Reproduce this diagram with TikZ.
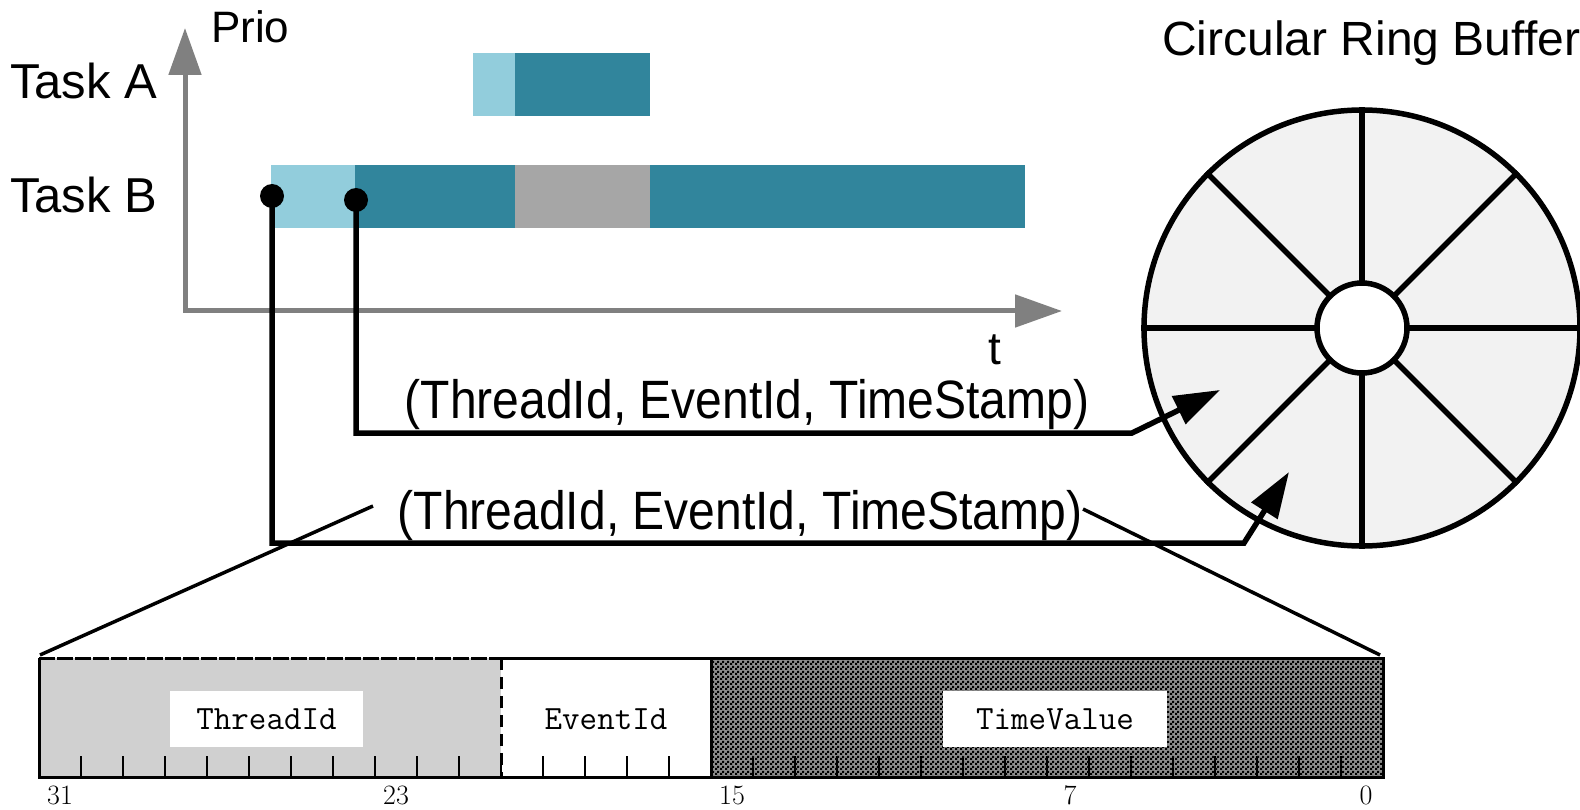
\documentclass[tikz,border=0pt]{standalone}
\usepackage{fontspec}
\newfontfamily\arialf{Liberation Sans}
\newfontfamily\narrowsans[FakeStretch=0.89]{Liberation Sans}
\usetikzlibrary{arrows.meta,patterns}
\definecolor{lightb}{HTML}{92CDDC}
\definecolor{tealb}{HTML}{31859C}
\definecolor{grayb}{HTML}{A6A6A6}
\definecolor{tidfill}{HTML}{D0D0D0}
\definecolor{ringfill}{HTML}{F2F2F2}
\definecolor{axisgray}{HTML}{808080}
\definecolor{checkbase}{HTML}{8C8C8C}
\pgfdeclarepatternformonly{checker}{\pgfpointorigin}{\pgfqpoint{5pt}{5pt}}{\pgfqpoint{5pt}{5pt}}{%
  \pgfpathrectangle{\pgfpointorigin}{\pgfqpoint{2.5pt}{2.5pt}}%
  \pgfpathrectangle{\pgfqpoint{2.5pt}{2.5pt}}{\pgfqpoint{2.5pt}{2.5pt}}%
  \pgfusepath{fill}}
\tikzset{
  tasklbl/.style={inner sep=0pt, anchor=base west, font=\arialf\fontsize{49}{58}\selectfont},
  prio/.style={inner sep=0pt, anchor=base west, font=\arialf\fontsize{44}{52}\selectfont},
  tlbl/.style={inner sep=0pt, anchor=base, font=\arialf\fontsize{46}{54}\selectfont},
  ringtitle/.style={inner sep=0pt, anchor=base west, font=\arialf\fontsize{48}{56}\selectfont},
  tuple/.style={inner sep=0pt, anchor=base, font=\narrowsans\fontsize{54}{62}\selectfont},
  axisline/.style={draw=axisgray, line width=5pt, line join=miter,
     {Triangle[length=47pt,width=32pt]}-{Triangle[length=47pt,width=32pt]}},
  conn/.style={draw=black, line width=5.5pt, line join=miter, -{Triangle[length=46pt,width=30pt]}},
  dotn/.style={circle, fill=black, inner sep=0pt, minimum size=24pt},
  fan/.style={draw=black, line width=3.5pt},
  fieldlbl/.style={inner sep=0pt, font=\ttfamily\fontsize{34}{40}\selectfont},
  bitlbl/.style={inner sep=0pt, anchor=base, font=\rmfamily\fontsize{28}{32}\selectfont},
  tickln/.style={draw=black, line width=2.5pt},
  spoke/.style={draw=black, line width=5.5pt},
}
\begin{document}
\begin{tikzpicture}[x=1pt,y=-1pt]
\useasboundingbox (0,0) rectangle (1580,810);
\fill[white] (0,0) rectangle (1580,810);

% task bars
\fill[lightb] (473,53) rectangle (515,116);
\fill[tealb] (515,53) rectangle (650,116);
\fill[lightb] (271,165) rectangle (355,228);
\fill[tealb] (355,165) rectangle (515,228);
\fill[grayb] (515,165) rectangle (650,228);
\fill[tealb] (650,165) rectangle (1025,228);

% axes
\coordinate (ytip) at (185,28);
\coordinate (orig) at (185,311);
\coordinate (xtip) at (1062,311);
\draw[axisline] (ytip) -- (orig) -- (xtip);

% labels
\node[prio] (prio) at (211,43) {Prio};
\node[tasklbl] (taska) at (10,99) {Task A};
\node[tasklbl] (taskb) at (10,213) {Task B};
\node[tlbl] (tl) at (995,365) {t};
\node[ringtitle] (rtitle) at (1162,56) {Circular Ring Buffer};
\node[tuple] (tup1) at (747,418) {(ThreadId, EventId, TimeStamp)};
\node[tuple] (tup2) at (740,529) {(ThreadId, EventId, TimeStamp)};

% ring buffer
\node[circle, draw=black, fill=ringfill, line width=5.5pt, minimum size=436pt, inner sep=0pt] (ring) at (1362,328) {};
\foreach \a in {0,45,...,315} \draw[spoke] (ring.center) -- (ring.\a);
\node[circle, draw=black, fill=white, line width=5.5pt, minimum size=90pt, inner sep=0pt] (hub) at (1362,328) {};

% connectors
\coordinate (k1) at (1132,433);
\coordinate (t1) at (1220,390);
\coordinate (k2) at (1244,543);
\coordinate (t2) at (1289,472);
\coordinate (s1) at (356,200);
\coordinate (s2) at (272,196);
\draw[conn] (s1) |- (k1) -- (t1);
\draw[conn] (s2) |- (k2) -- (t2);
\node[dotn] (d1) at (s1) {};
\node[dotn] (d2) at (s2) {};

% bit field bar
\fill[tidfill] (39,658) rectangle (501,777);
\fill[checkbase] (711,658) rectangle (1383,777);
\fill[pattern=checker, pattern color=black] (711,658) rectangle (1383,777);
\foreach \k in {1,...,31} \draw[tickln] (39+42*\k,777) -- (39+42*\k,756);
\draw[black, line width=3pt, dash pattern=on 16pt off 2pt] (39,658) -- (501,658);
\draw[black, line width=3pt, line join=miter] (501,658) -- (1383,658) -- (1383,777) -- (39,777) -- (39,658);
\draw[black, line width=3pt, dash pattern=on 12pt off 7pt] (501,658) -- (501,777);
\draw[black, line width=3pt] (711,658) -- (711,777);

\node[fieldlbl, fill=white, minimum width=193pt, minimum height=56pt] (fth) at (266.5,719) {ThreadId};
\node[fieldlbl] (fev) at (606,719) {EventId};
\node[fieldlbl, fill=white, minimum width=224pt, minimum height=56pt] (ftv) at (1055,719) {TimeValue};

\node[bitlbl] (b31) at (60,804) {31};
\node[bitlbl] (b23) at (396,804) {23};
\node[bitlbl] (b15) at (732,804) {15};
\node[bitlbl] (b7) at (1070,804) {7};
\node[bitlbl] (b0) at (1366,804) {0};

% fan lines
\coordinate (fl) at (373,506);
\coordinate (fr) at (1083,509);
\coordinate (bl) at (40,655);
\coordinate (br) at (1380,655);
\draw[fan] (bl) -- (fl);
\draw[fan] (fr) -- (br);
\end{tikzpicture}
\end{document}
